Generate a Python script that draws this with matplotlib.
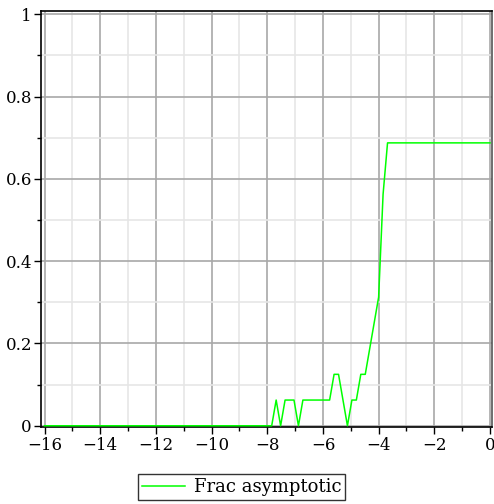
import numpy as np
import matplotlib.pyplot as plt
from matplotlib.ticker import MultipleLocator, FuncFormatter

# breakpoints of the piecewise-linear curve (fraction in sixteenths)
x_pts = [-16.0, -7.84, -7.68, -7.52, -7.36, -7.04, -6.88, -6.72, -5.76, -5.60,
         -5.44, -5.12, -4.96, -4.80, -4.64, -4.48, -4.00, -3.84, -3.68, 0.0]
y_sixteenths = [0, 0, 1, 0, 1, 1, 0, 1, 1, 2,
                2, 0, 1, 1, 2, 2, 5, 9, 11, 11]
y_pts = [v / 16 for v in y_sixteenths]

x_major = [-16, -14, -12, -10, -8, -6, -4, -2, 0]
y_major = [0, 0.2, 0.4, 0.6, 0.8, 1]

plt.rcParams['font.family'] = 'DejaVu Serif'

fig = plt.figure(figsize=(4.94, 5.04), dpi=100)
ax = fig.add_axes([41 / 494, 77 / 504, 451 / 494, 416 / 504])

ax.plot(x_pts, y_pts, color='#00ff00', linewidth=1.1, label='Frac asymptotic', zorder=3)

ax.set_xlim(-16.126, 0.072)
ax.set_ylim(-0.003, 1.008)

ax.set_xticks(x_major)
ax.set_yticks(y_major)
ax.xaxis.set_minor_locator(MultipleLocator(1))
ax.yaxis.set_minor_locator(MultipleLocator(0.1))

def fmt_x(v, pos):
    return ('%d' % v).replace('-', '\u2212')

def fmt_y(v, pos):
    return '%g' % round(v, 2)

ax.xaxis.set_major_formatter(FuncFormatter(fmt_x))
ax.yaxis.set_major_formatter(FuncFormatter(fmt_y))

ax.grid(which='major', color='#a8a8a8', linewidth=1.2)
ax.grid(which='minor', color='#e6e6e6', linewidth=1.2)
ax.set_axisbelow(True)

ax.tick_params(which='major', direction='out', length=5, width=1, labelsize=12, colors='black')
ax.tick_params(which='minor', direction='out', length=3, width=1)
ax.tick_params(axis='x', pad=2)
ax.tick_params(axis='y', pad=1.5)

for side in ['left', 'bottom', 'top']:
    ax.spines[side].set_color('black')
    ax.spines[side].set_linewidth(1.2)
ax.spines['right'].set_color('#555555')
ax.spines['right'].set_linewidth(1.2)

leg = fig.legend(loc='center', bbox_to_anchor=(241.5 / 494, 1 - 487 / 504),
                 fontsize=13, frameon=True, fancybox=False, handlelength=2.4,
                 borderpad=0.2, handletextpad=0.5)
leg.get_frame().set_edgecolor('black')
leg.get_frame().set_linewidth(1)

fig.savefig('out.png', dpi=100)
